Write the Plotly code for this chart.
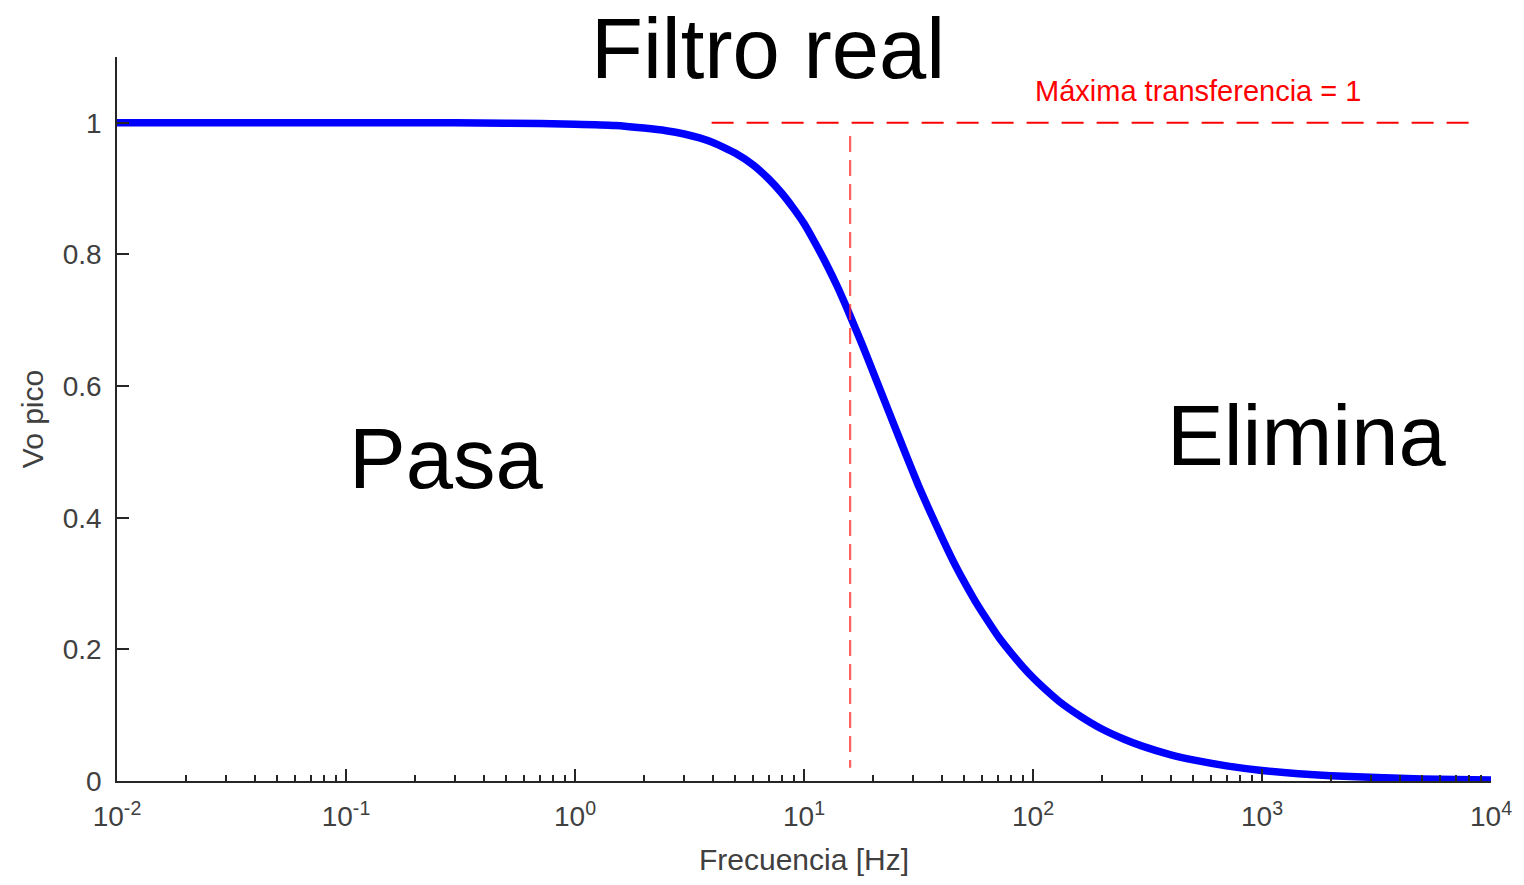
import plotly.graph_objects as go

# Magnitude response of a first-order low-pass filter (values read per frequency)
freq_hz = [0.01, 0.03, 0.1, 0.3, 0.5, 1, 1.5, 2, 2.5, 3, 3.5, 4, 4.5, 5, 6, 7,
           8, 9, 10, 11, 12.5, 14, 15.9, 18, 20, 22.5, 25, 28, 31.6, 35, 40,
           45, 50, 56, 63, 71, 80, 90, 100, 115, 130, 160, 200, 250, 300, 400,
           500, 700, 1000, 2000, 5000, 10000]
vo_pico = [1.0, 1.0, 1.0, 1.0, 0.9995, 0.998, 0.996, 0.992, 0.988, 0.983,
           0.977, 0.970, 0.962, 0.954, 0.936, 0.915, 0.893, 0.870, 0.847,
           0.822, 0.786, 0.751, 0.707, 0.662, 0.622, 0.577, 0.537, 0.494,
           0.449, 0.414, 0.370, 0.333, 0.303, 0.273, 0.245, 0.218, 0.195,
           0.174, 0.157, 0.137, 0.121, 0.099, 0.079, 0.0635, 0.053, 0.0397,
           0.032, 0.023, 0.016, 0.008, 0.003, 0.0016]

# Cut-off marker and maximum-transfer reference
cutoff_x = [15.9, 15.9]
cutoff_y = [0.98, 0.02]
max_x = [3.95, 8300]
max_y = [1, 1]

x_ticks = [0.01, 0.1, 1, 10, 100, 1000, 10000]
x_tick_text = ["10<sup>-2</sup>", "10<sup>-1</sup>", "10<sup>0</sup>",
               "10<sup>1</sup>", "10<sup>2</sup>", "10<sup>3</sup>",
               "10<sup>4</sup>"]
y_ticks = [0, 0.2, 0.4, 0.6, 0.8, 1]
y_tick_text = ["0", "0.2", "0.4", "0.6", "0.8", "1"]
minor_ticks = [m * 10 ** e for e in range(-2, 4) for m in range(2, 10)]

FONT = "Liberation Sans, Arial, sans-serif"
AXIS = "#262626"
LABEL = "#404040"

fig = go.Figure()
fig.add_trace(go.Scatter(x=freq_hz, y=vo_pico, mode="lines",
                         line=dict(color="#0000ff", width=7.5, shape="spline",
                                   smoothing=0.5),
                         hoverinfo="skip"))
fig.add_trace(go.Scatter(x=cutoff_x, y=cutoff_y, mode="lines",
                         line=dict(color="rgba(255,40,40,0.75)", width=2.2,
                                   dash="16px,8px"),
                         hoverinfo="skip"))
fig.add_trace(go.Scatter(x=max_x, y=max_y, mode="lines",
                         line=dict(color="#ff0000", width=2,
                                   dash="22px,13px"),
                         hoverinfo="skip"))

fig.add_annotation(text="Filtro real", xref="paper", yref="paper",
                   x=0.474, y=1.012, xanchor="center", yanchor="middle",
                   showarrow=False, font=dict(family=FONT, size=85, color="black"))
fig.add_annotation(text="Pasa", x=-0.562, y=0.49, xref="x", yref="y",
                   xanchor="center", yanchor="middle", showarrow=False,
                   font=dict(family=FONT, size=85, color="black"))
fig.add_annotation(text="Elimina", x=3.194, y=0.525, xref="x", yref="y",
                   xanchor="center", yanchor="middle", showarrow=False,
                   font=dict(family=FONT, size=85, color="black"))
fig.add_annotation(text="Máxima transferencia = 1", x=2.719, y=1.048,
                   xref="x", yref="y", xanchor="center", yanchor="middle",
                   showarrow=False,
                   font=dict(family=FONT, size=29, color="#ff0000"))

fig.update_xaxes(type="log", range=[-2, 4], tickvals=x_ticks,
                 ticktext=x_tick_text, ticks="inside", ticklen=12,
                 tickwidth=1.5, tickcolor=AXIS, showline=True, linecolor=AXIS,
                 linewidth=1.5, showgrid=False, zeroline=False,
                 ticklabelstandoff=10,
                 tickfont=dict(family=FONT, size=28, color=LABEL),
                 title=dict(text="Frecuencia [Hz]", standoff=18,
                            font=dict(family=FONT, size=30, color=LABEL)),
                 minor=dict(tickvals=minor_ticks, ticks="inside", ticklen=6,
                            tickwidth=1.5, tickcolor=AXIS, showgrid=False))
fig.update_yaxes(range=[0, 1.1], tickvals=y_ticks, ticktext=y_tick_text,
                 ticks="inside", ticklen=12, tickwidth=1.5, tickcolor=AXIS,
                 showline=True, linecolor=AXIS, linewidth=1.5, showgrid=False,
                 zeroline=False, ticklabelstandoff=8,
                 tickfont=dict(family=FONT, size=28, color=LABEL),
                 title=dict(text="Vo pico", standoff=10,
                            font=dict(family=FONT, size=30, color=LABEL)))

fig.update_layout(width=1524, height=885, showlegend=False,
                  paper_bgcolor="white", plot_bgcolor="white",
                  margin=dict(l=117, r=30, t=57, b=104))

fig.write_html("out.html")
